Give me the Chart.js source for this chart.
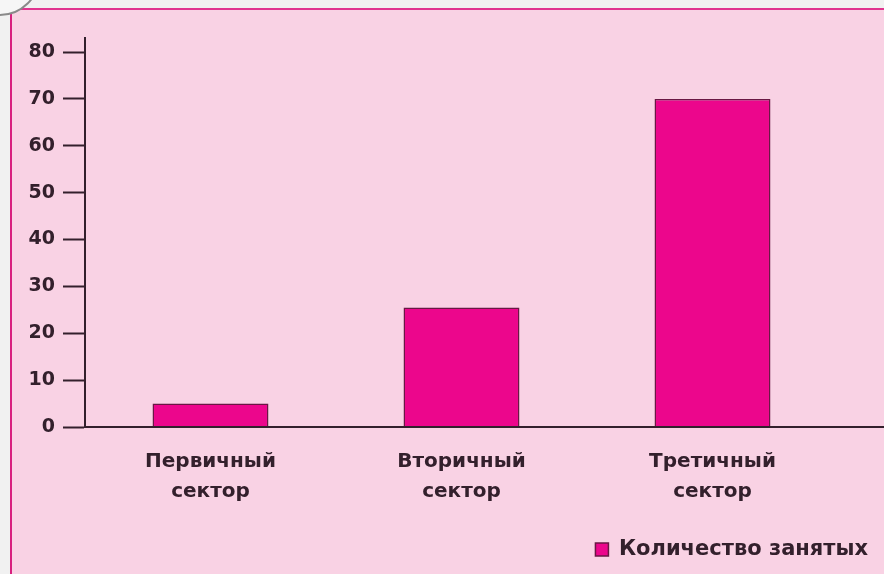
<!DOCTYPE html>
<html>
<head>
<meta charset="utf-8">
<script src="https://cdn.jsdelivr.net/npm/chart.js@4"></script>
<style>
	body{margin:0;background:#f1f1f1;width:884px;height:574px;overflow:hidden;position:relative;font-family:"DejaVu Sans",sans-serif}
	#badge{position:absolute;left:-40px;top:-64px;width:76px;height:76px;border:2px solid #8a8a8a;border-radius:50%;background:#f6f6f6;z-index:2}
	#panel{position:absolute;left:10px;top:8px;width:872px;height:564px;background:#f9d2e4;border-left:2px solid #d8207f;border-top:2px solid #e0358f}
	#chart{display:block}
</style>
</head>
<body>
<div id="badge"></div>
<div id="panel"><canvas id="chart" width="872" height="564"></canvas></div>
<script>
const categories = [['Первичный','сектор'], ['Вторичный','сектор'], ['Третичный','сектор']];
const employed = [5, 25.5, 70];
const seriesName = 'Количество занятых';
const yTicks = [0, 10, 20, 30, 40, 50, 60, 70, 80];

const inkColor = '#33202c';
const barColor = '#ec068c';
const barEdge = '#6a1744';
const font = {family:'"DejaVu Sans", sans-serif', size:19, weight:'bold'};

// x axis line runs on to the right edge of the panel
const axisTail = {
	id:'axisTail',
	afterDraw(chart){
		const {ctx, chartArea} = chart;
		const y0 = chart.scales.y.getPixelForValue(0);
		ctx.save();
		ctx.strokeStyle = inkColor;
		ctx.lineWidth = 2;
		ctx.beginPath();
		ctx.moveTo(chartArea.left, y0);
		ctx.lineTo(chart.width, y0);
		ctx.stroke();
		ctx.restore();
	}
};

new Chart(document.getElementById('chart'), {
	type:'bar',
	data:{
		labels:categories,
		datasets:[{
			label:seriesName,
			data:employed,
			backgroundColor:barColor,
			borderColor:barEdge,
			borderWidth:1.5,
			categoryPercentage:1,
			barPercentage:0.462
		}]
	},
	options:{
		responsive:false,
		animation:false,
		layout:{padding:{top:28, right:8, bottom:4, left:0}},
		plugins:{
			tooltip:{enabled:false},
			legend:{
				position:'bottom',
				align:'end',
				labels:{color:inkColor, font:{...font, size:21}, boxWidth:13, boxHeight:13, padding:8}
			}
		},
		scales:{
			x:{
				grid:{display:false},
				border:{display:false},
				ticks:{color:inkColor, font:{...font, size:20, lineHeight:1.5}, padding:12},
				afterFit(s){ s.height += 12; }
			},
			y:{
				min:0, max:83,
				afterBuildTicks(s){ s.ticks = yTicks.map(v => ({value:v})); },
				afterFit(s){ s.width = 73; },
				grid:{drawOnChartArea:false, drawTicks:true, tickLength:22, tickColor:inkColor, tickWidth:2},
				border:{color:inkColor, width:2},
				ticks:{color:inkColor, font, padding:8}
			},
			pad:{
				position:'right',
				display:true,
				grid:{display:false},
				border:{display:false},
				ticks:{display:false},
				afterFit(s){ s.width = 38; }
			}
		}
	},
	plugins:[axisTail]
});
</script>
</body>
</html>
